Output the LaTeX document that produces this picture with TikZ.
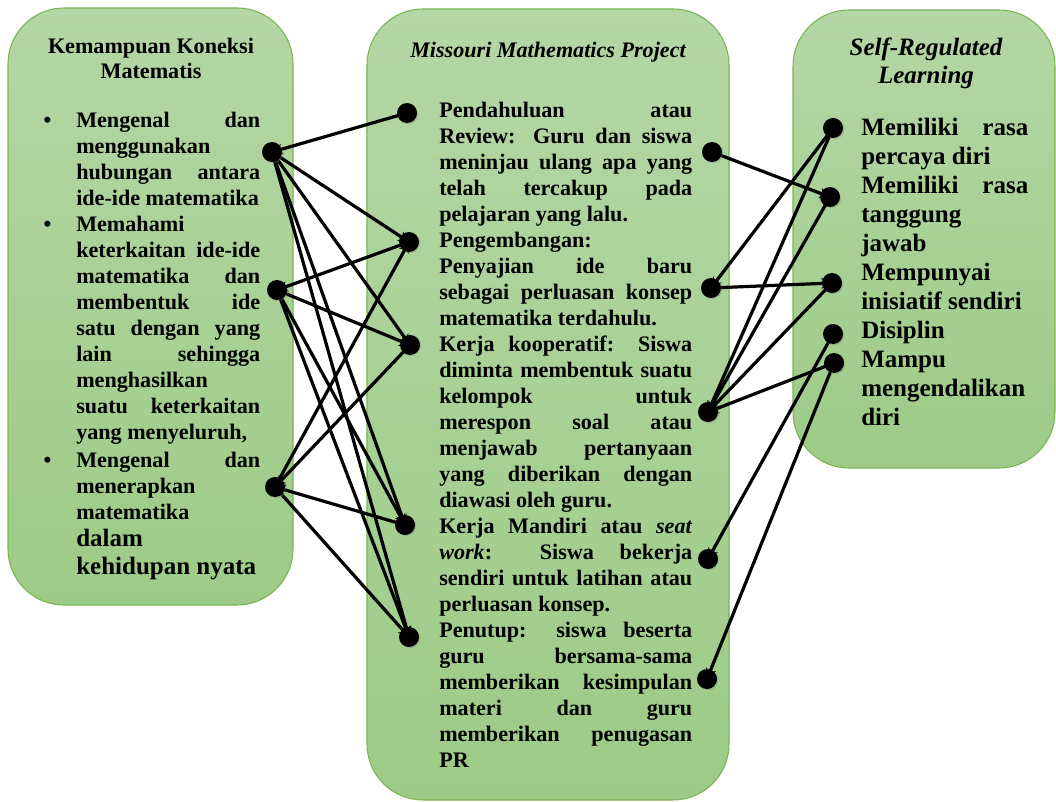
\documentclass[tikz,border=0pt]{standalone}
\usepackage{fontspec}
\setmainfont{Liberation Serif}
\usetikzlibrary{arrows.meta,shadows}
\newlength\pxu \setlength\pxu{0.75pt}
\newcommand\js[2]{\makebox[#1\pxu][s]{#2}}
\newcommand\blt{\llap{\textbullet\hspace{25\pxu}}}
\newcommand\fA{\fontsize{16.6pt}{19.5pt}\selectfont\bfseries}
\newcommand\fB{\fontsize{18.75pt}{21.75pt}\selectfont\bfseries}
\newcommand\fC{\fontsize{18.75pt}{21pt}\selectfont\bfseries}
\newcommand\fT{\fontsize{16.6pt}{18.75pt}\selectfont\bfseries}
\definecolor{panTop}{RGB}{181,214,165}
\definecolor{panBot}{RGB}{157,203,135}
\definecolor{panEdge}{RGB}{120,181,84}
\pgfdeclarelayer{panels}
\pgfdeclarelayer{links}
\pgfsetlayers{panels,links,main}
\tikzset{
  panel/.style={rounded corners=42pt, top color=panTop, bottom color=panBot, draw=panEdge, line width=0.8pt},
  txt/.style={anchor=north west, inner sep=0pt, align=left},
  ttl/.style={inner sep=0pt, align=center},
  dot/.style={circle, fill=black, inner sep=0pt, minimum size=15pt,
    drop shadow={shadow xshift=0.9pt, shadow yshift=-0.9pt, opacity=0.35}},
  conn/.style={line width=2.4pt, -{Stealth[length=8pt,width=8pt]}}
}
\begin{document}
\begin{tikzpicture}[x=0.75pt,y=-0.75pt]
\useasboundingbox (0,0) rectangle (1056,802);
\begin{pgfonlayer}{panels}
\shade[panel] (8,8) rectangle (293,605);
\shade[panel] (367,9) rectangle (729,800);
\shade[panel] (793,10) rectangle (1055,468);
\end{pgfonlayer}

% titles
\node[ttl, anchor=north, font=\fT] (tL) at (151,35.5) {\strut Kemampuan Koneksi\\Matematis};
\node[ttl, anchor=base, font=\fA\itshape] (tM) at (548,58) {Missouri Mathematics Project};
\node[ttl, anchor=north, font=\fC\itshape] (tR) at (926,35.4) {\strut Self-Regulated\\Learning};

% left text
\node[txt, font=\fA] (xL) at (76,108.8) {\strut\blt\js{184}{Mengenal dan}\\
menggunakan\\
\js{184}{hubungan antara}\\
ide-ide matematika\\
\blt Memahami\\
\js{184}{keterkaitan ide-ide}\\
\js{184}{matematika dan}\\
\js{184}{membentuk ide}\\
\js{184}{satu dengan yang}\\
\js{184}{lain sehingga}\\
menghasilkan\\
\js{184}{suatu keterkaitan}\\
yang menyeluruh,\\[2\pxu]
\blt\js{184}{Mengenal dan}\\
menerapkan\\
matematika};
\node[txt, font=\fC] (xL2) at (76,526.4) {\strut dalam\\kehidupan nyata};

% middle text
\node[txt, font=\fA] (xM) at (439,98.8) {\strut\js{253}{Pendahuluan atau}\\
\js{253}{Review: Guru dan siswa}\\
\js{253}{meninjau ulang apa yang}\\
\js{253}{telah tercakup pada}\\
pelajaran yang lalu.\\
Pengembangan:\\
\js{253}{Penyajian ide baru}\\
\js{253}{sebagai perluasan konsep}\\
matematika terdahulu.\\
\js{253}{Kerja kooperatif: Siswa}\\
\js{253}{diminta membentuk suatu}\\
\js{253}{kelompok untuk}\\
\js{253}{merespon soal atau}\\
\js{253}{menjawab pertanyaan}\\
\js{253}{yang diberikan dengan}\\
diawasi oleh guru.\\
\js{253}{Kerja Mandiri atau \textit{seat}}\\
\js{253}{\textit{work}: Siswa bekerja}\\
\js{253}{sendiri untuk latihan atau}\\
perluasan konsep.\\
\js{253}{Penutup: siswa beserta}\\
\js{253}{guru bersama-sama}\\
\js{253}{memberikan kesimpulan}\\
\js{253}{materi dan guru}\\
\js{253}{memberikan penugasan}\\
PR};

% right text
\node[txt, font=\fB] (xR) at (861,114.7) {\strut\js{167}{Memiliki rasa}\\
percaya diri\\
\js{167}{Memiliki rasa}\\
tanggung\\
jawab\\
Mempunyai\\
inisiatif sendiri\\
Disiplin\\
Mampu\\
mengendalikan\\
diri};

% dots
\node[dot] (L1) at (272,152) {};
\node[dot] (L2) at (277,290) {};
\node[dot] (L3) at (275,487) {};
\node[dot] (M1) at (407,113) {};
\node[dot] (M2) at (409,242) {};
\node[dot] (M3) at (410,345) {};
\node[dot] (M4) at (405,525) {};
\node[dot] (M5) at (409,637) {};
\node[dot] (R1) at (712,152) {};
\node[dot] (R2) at (711,288) {};
\node[dot] (R3) at (708,412) {};
\node[dot] (R4) at (708,559) {};
\node[dot] (R5) at (707,679) {};
\node[dot] (S1) at (833,128) {};
\node[dot] (S2) at (830,197) {};
\node[dot] (S3) at (832,283) {};
\node[dot] (S4) at (833,334) {};
\node[dot] (S5) at (834,363) {};

\begin{pgfonlayer}{links}
\draw[conn] (M1.center) -- (L1.center);
\draw[conn] (L1.center) -- (M2.center);
\draw[conn] (L1.center) -- (M3.center);
\draw[conn] (L1.center) -- (M4.center);
\draw[conn] (L1.center) -- (M5.center);
\draw[conn] (M2.center) -- (L2.center);
\draw[conn] (L2.center) -- (M3.center);
\draw[conn] (L2.center) -- (M4.center);
\draw[conn] (L2.center) -- (M5.center);
\draw[conn] (L3.center) -- (M2.center);
\draw[conn] (M3.center) -- (L3.center);
\draw[conn] (M4.center) -- (L3.center);
\draw[conn] (L3.center) -- (M5.center);
\draw[conn] (R1.center) -- (S2.center);
\draw[conn] (S1.center) -- (R2.center);
\draw[conn] (R2.center) -- (S3.center);
\draw[conn] (S1.center) -- (R3.center);
\draw[conn] (S2.center) -- (R3.center);
\draw[conn] (S3.center) -- (R3.center);
\draw[conn] (S5.center) -- (R3.center);
\draw[conn] (S4.center) -- (R4.center);
\draw[conn] (S5.center) -- (R5.center);
\end{pgfonlayer}
\end{tikzpicture}
\end{document}
